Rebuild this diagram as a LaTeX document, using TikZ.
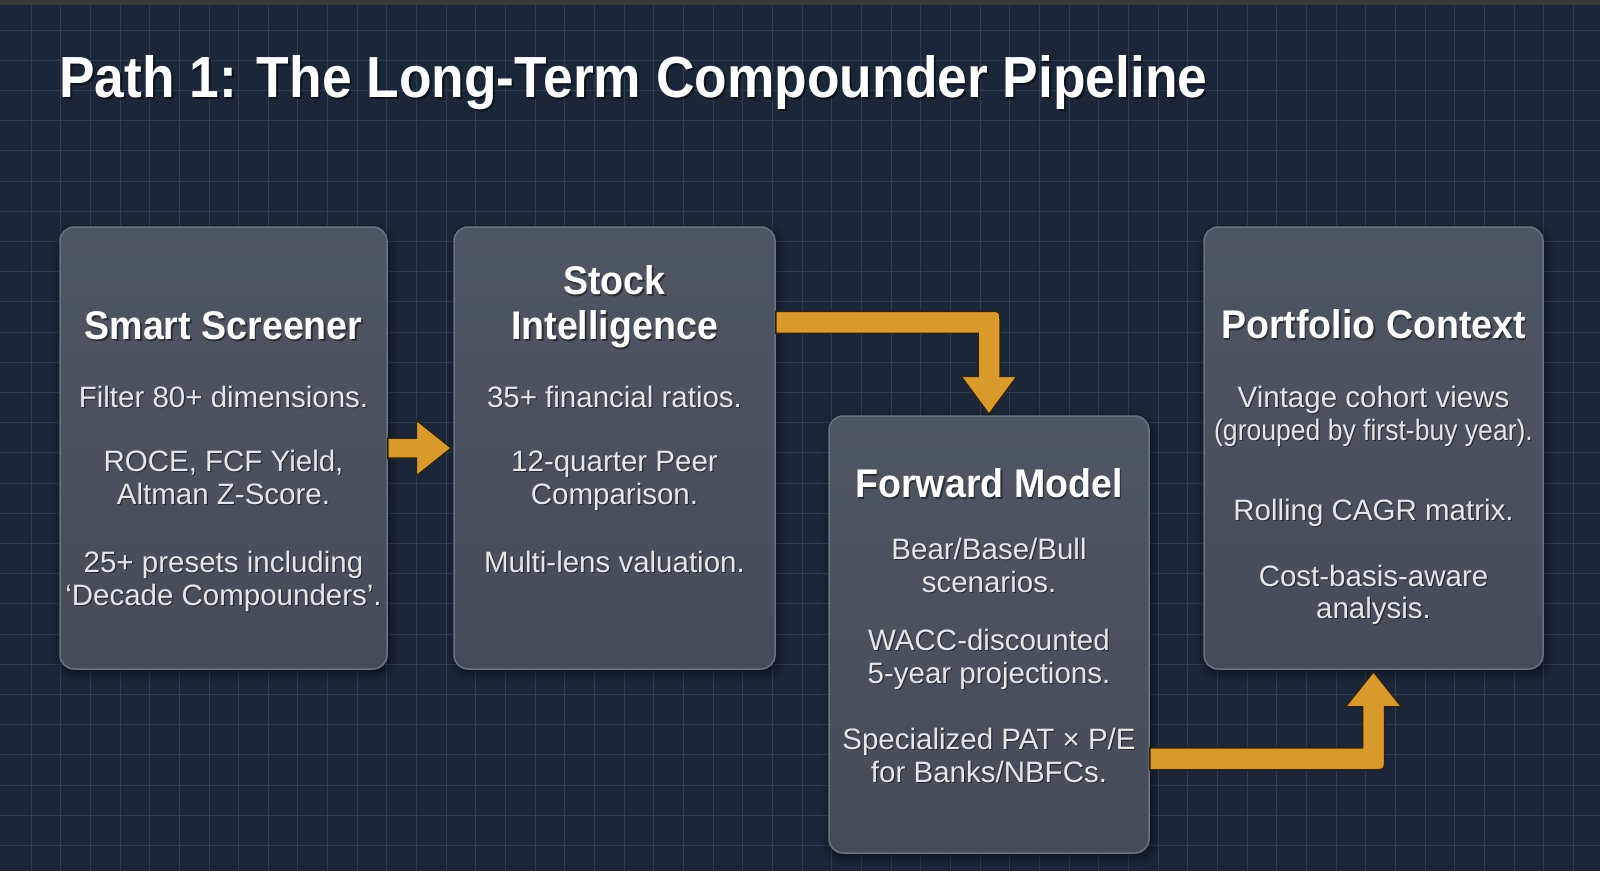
\documentclass[tikz,border=0pt]{standalone}
\usepackage{fontspec}
\setmainfont{Liberation Sans}
\newfontfamily\titlefont{Liberation Sans}[FakeStretch=0.92]
\newfontfamily\headfont{Liberation Sans}[FakeStretch=0.94]
\newfontfamily\narrowbody{Liberation Sans}[FakeStretch=0.9]
\usetikzlibrary{calc,shadows.blur}
\definecolor{bgcol}{HTML}{1B2638}
\definecolor{gridcol}{HTML}{2F3C52}
\definecolor{bandcol}{HTML}{3A3A3A}
\definecolor{boxtop}{HTML}{4F5663}
\definecolor{boxbot}{HTML}{464C57}
\definecolor{boxline}{HTML}{6C7380}
\definecolor{goldcol}{HTML}{D89A2C}
\definecolor{goldline}{HTML}{2E220E}
\definecolor{bodycol}{HTML}{E4E6EA}
\tikzset{
  gridline/.style={draw=gridcol, line width=0.9pt},
  stagebox/.style={rounded corners=14pt, draw=boxline, line width=1.5pt,
    top color=boxtop, bottom color=boxbot, inner sep=0pt,
    blur shadow={shadow xshift=2pt, shadow yshift=-4pt, shadow blur radius=9pt, shadow opacity=60}},
  goldarrow/.style={fill=goldcol, draw=goldline, line width=1.5pt, line join=miter},
  headtx/.style={anchor=base, inner sep=0pt, text=white, font=\headfont\bfseries\fontsize{40}{44}\selectfont},
  bodytx/.style={anchor=base, inner sep=0pt, text=bodycol, font=\fontsize{29.5}{33}\selectfont},
  shadowtx/.style={text=black, opacity=0.45},
}
\newcommand\headline[4]{%
  \node[headtx, shadowtx] (#1s) at (#2+1.5,#3+2) {#4};
  \node[headtx] (#1) at (#2,#3) {#4};}
\newcommand\bodyline[4]{%
  \node[bodytx, shadowtx] (#1s) at (#2+1.2,#3+1.6) {#4};
  \node[bodytx] (#1) at (#2,#3) {#4};}
\begin{document}
\begin{tikzpicture}[x=1pt,y=-1pt]
\useasboundingbox (0,0) rectangle (1600,871);
\fill[bgcol] (0,0) rectangle (1600,871);
\foreach \gx in {31,60.66,...,1600} \draw[gridline] (\gx,0) -- (\gx,871);
\foreach \gy in {30,60.2,...,871} \draw[gridline] (0,\gy) -- (1600,\gy);
\fill[bandcol] (0,0) rectangle (1600,4.5);

% title
\node[anchor=base west, inner sep=0pt, text=black, opacity=0.5, font=\titlefont\bfseries\fontsize{58}{64}\selectfont] (titles) at (61,99.5) {Path 1: The Long-Term Compounder Pipeline};
\node[anchor=base west, inner sep=0pt, text=white, font=\titlefont\bfseries\fontsize{58}{64}\selectfont] (title) at (59,97) {Path 1: The Long-Term Compounder Pipeline};

% boxes
\node[stagebox, minimum width=327pt, minimum height=442pt] (b1) at (223.5,448) {};
\node[stagebox, minimum width=321pt, minimum height=442pt] (b2) at (614.5,448) {};
\node[stagebox, minimum width=320pt, minimum height=437pt] (b3) at (989,634.5) {};
\node[stagebox, minimum width=339pt, minimum height=442pt] (b4) at (1373.5,448) {};

% arrows
\coordinate (a1s) at (b1.east);
\coordinate (a1e) at ($(b2.west)+(-2,0)$);
\filldraw[goldarrow] ($(a1s)+(0,-10)$) -- ($(a1e)+(-35,-10)$) -- ($(a1e)+(-35,-28)$) -- (a1e)
  -- ($(a1e)+(-35,28)$) -- ($(a1e)+(-35,10)$) -- ($(a1s)+(0,10)$) -- cycle;

\coordinate (a2s) at ($(b2.north east)+(0,96)$);
\coordinate (a2e) at ($(b3.north)+(0,-1)$);
\coordinate (c2) at (a2e |- a2s);
\filldraw[goldarrow] ($(a2s)+(0,-11)$) -- ($(c2)+(1,-11)$) .. controls ($(c2)+(11,-11)$) .. ($(c2)+(11,-1)$)
  -- ($(a2e)+(11,-38)$) -- ($(a2e)+(28,-38)$) -- (a2e) -- ($(a2e)+(-28,-38)$) -- ($(a2e)+(-11,-38)$)
  -- ($(c2)+(-11,11)$) -- ($(a2s)+(0,11)$) -- cycle;

\coordinate (a3s) at ($(b3.south east)+(0,-95)$);
\coordinate (a3e) at ($(b4.south)+(0,2)$);
\coordinate (c3) at (a3e |- a3s);
\filldraw[goldarrow] ($(a3s)+(0,-11)$) -- ($(c3)+(-11,-11)$) -- ($(a3e)+(-11,35)$) -- ($(a3e)+(-28,35)$)
  -- (a3e) -- ($(a3e)+(28,35)$) -- ($(a3e)+(11,35)$) -- ($(c3)+(11,1)$) .. controls ($(c3)+(11,11)$) .. ($(c3)+(1,11)$)
  -- ($(a3s)+(0,11)$) -- cycle;

% box 1 text
\headline{h1}{223.5}{339}{Smart Screener}
\bodyline{t1a}{223.5}{407}{Filter 80+ dimensions.}
\bodyline{t1b}{223.5}{471}{ROCE, FCF Yield,}
\bodyline{t1c}{223.5}{504}{Altman Z-Score.}
\bodyline{t1d}{223.5}{572}{25+ presets including}
\bodyline{t1e}{223.5}{605}{‘Decade Compounders’.}

% box 2 text
\headline{h2a}{614.5}{294}{Stock}
\headline{h2b}{614.5}{339}{Intelligence}
\bodyline{t2a}{614.5}{407}{35+ financial ratios.}
\bodyline{t2b}{614.5}{471}{12-quarter Peer}
\bodyline{t2c}{614.5}{504}{Comparison.}
\bodyline{t2d}{614.5}{572}{Multi-lens valuation.}

% box 3 text
\headline{h3}{989}{497}{Forward Model}
\bodyline{t3a}{989}{559}{Bear/Base/Bull}
\bodyline{t3b}{989}{592}{scenarios.}
\bodyline{t3c}{989}{650}{WACC-discounted}
\bodyline{t3d}{989}{683}{5-year projections.}
\bodyline{t3e}{989}{749}{Specialized PAT × P/E}
\bodyline{t3f}{989}{782}{for Banks/NBFCs.}

% box 4 text
\headline{h4}{1373.5}{338}{Portfolio Context}
\bodyline{t4a}{1373.5}{407}{Vintage cohort views}
\bodyline{t4b}{1373.5}{440}{\narrowbody (grouped by first-buy year).}
\bodyline{t4c}{1373.5}{520}{Rolling CAGR matrix.}
\bodyline{t4d}{1373.5}{586}{Cost-basis-aware}
\bodyline{t4e}{1373.5}{618}{analysis.}
\end{tikzpicture}
\end{document}
